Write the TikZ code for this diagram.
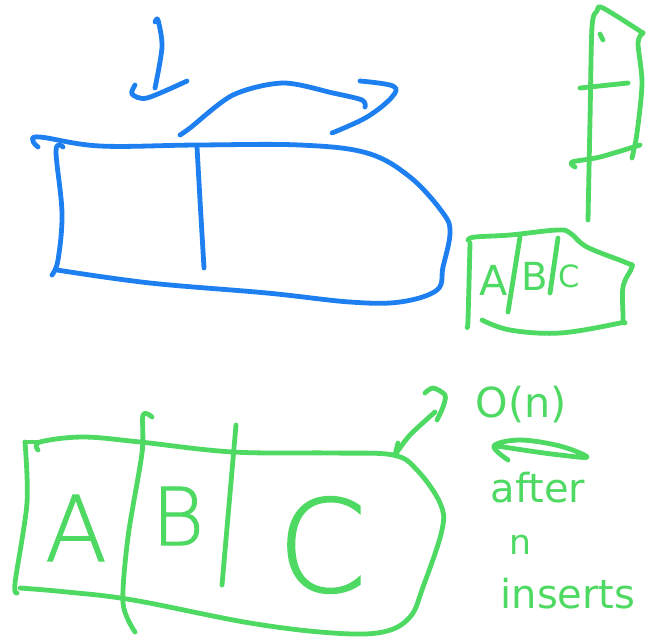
\documentclass[tikz,border=0pt]{standalone}
\usepackage{fontspec}
\setmainfont{DejaVu Sans}
\newfontfamily\sketchfont{DejaVu Sans ExtraLight}[AutoFakeBold=1.2]
\usetikzlibrary{arrows.meta}
\definecolor{skblue}{HTML}{1E80F0}
\definecolor{skgreen}{HTML}{4ED963}

\begin{document}
\begin{tikzpicture}[
  x=0.75pt, y=-0.75pt,
  pen/.style={line width=3.6pt, line cap=round, line join=round},
  bluepen/.style={pen, draw=skblue},
  greenpen/.style={pen, draw=skgreen},
  ink/.style={text=skgreen, inner sep=0pt, anchor=center},
  bigink/.style={ink, font=\sketchfont\bfseries\fontsize{#1}{#1}\selectfont},
]
\useasboundingbox (0,0) rectangle (649,637);

% Blue array, two cells
\draw[bluepen] plot[smooth, tension=0.6] coordinates {(38,147) (33,141) (40,137) (100,146) (197,145) (300,145) (367,153) (410,177) (443,213) (450,233) (443,267) (437,290) (400,302) (350,302) (267,293) (150,283) (57,270)};
\draw[bluepen] plot[smooth, tension=0.6] coordinates {(63,147) (56,151) (62,213) (58,260) (52,275)};
\draw[bluepen] plot[smooth] coordinates {(197,147) (200,200) (204,268)};

% Blue insert arrow
\draw[bluepen] plot[smooth] coordinates {(155,22) (158,20) (162,47) (155,88)};
\draw[bluepen] plot[smooth] coordinates {(135,85) (132,94) (147,98) (187,81)};

% Blue grow arrow
\draw[bluepen] plot[smooth] coordinates {(180,135) (190,128) (233,95) (283,83) (333,93) (362,100) (365,107)};
\draw[bluepen] plot[smooth, tension=0.6] coordinates {(360,81) (393,86) (392,97) (367,117) (332,133)};

% Green column, top right
\draw[greenpen] plot[smooth, tension=0.5] coordinates {(588,220) (590,120) (592,27) (597,11) (603,8) (643,33)};
\draw[greenpen] plot[smooth] coordinates {(643,33) (638,43) (642,83) (637,133) (632,158)};
\draw[greenpen] (600,34) -- (603,40);
\draw[greenpen] (580,88) -- (628,83);
\draw[greenpen] plot[smooth] coordinates {(575,167) (572,162) (600,157) (640,145)};

% Green small array
\draw[greenpen] plot[smooth, tension=0.6] coordinates {(468,240) (475,237) (510,235) (557,230) (570,233) (587,247) (627,263) (632,267) (623,287) (623,320) (620,323) (560,333) (510,330) (482,320)};
\draw[greenpen] plot[smooth] coordinates {(470,243) (468,320) (467,327)};
\draw[greenpen] (520,237) -- (508,312);
\draw[greenpen] (558,238) -- (550,293);
\node[ink, font=\fontsize{31}{31}\selectfont] (sa) at (494,280) {A};
\node[ink, font=\fontsize{29}{29}\selectfont] (sb) at (535,276) {B};
\node[ink, font=\fontsize{23}{23}\selectfont] (sc) at (569,276) {C};

% Green big array
\draw[greenpen] plot[smooth, tension=0.6] coordinates {(38,450) (40,442) (83,437) (140,442) (233,452) (333,453) (393,455) (417,470) (440,503) (442,530) (423,587) (410,617) (383,632) (333,633) (250,623) (133,600) (67,592) (20,588)};
\draw[greenpen] plot[smooth] coordinates {(25,442) (27,503) (15,583) (17,593)};
\draw[greenpen] (25,442) -- (38,442);
\draw[greenpen] plot[smooth] coordinates {(152,417) (143,415) (142,453) (128,537) (123,603) (135,632)};
\draw[greenpen] (236,425) -- (222,585);
\node[bigink=68] (ba) at (76,528) {A};
\node[bigink=60] (bb) at (178,516) {B};
\node[bigink=96] (bc) at (322,545) {C};

% Pointer to big array
\draw[greenpen] plot[smooth] coordinates {(425,393) (433,388) (445,395) (443,407) (437,420)};
\draw[greenpen] plot[smooth] coordinates {(435,412) (410,435) (395,455)};
\draw[greenpen] (395,455) -- (398,443);

% Cost note
\node[ink, font=\fontsize{31}{31}\selectfont] (cost) at (521,405) {O(n)};
\draw[greenpen] plot[smooth, tension=0.6] coordinates {(508,460) (494,446) (520,440) (560,446) (587,457) (560,455) (530,451) (497,446)};
\node[ink, font=\fontsize{30}{30}\selectfont] (after) at (538,488) {after};
\node[ink, font=\fontsize{26}{26}\selectfont] (nn) at (520,545) {n};
\node[ink, font=\fontsize{30}{30}\selectfont] (inserts) at (568,594) {inserts};

\end{tikzpicture}
\end{document}
